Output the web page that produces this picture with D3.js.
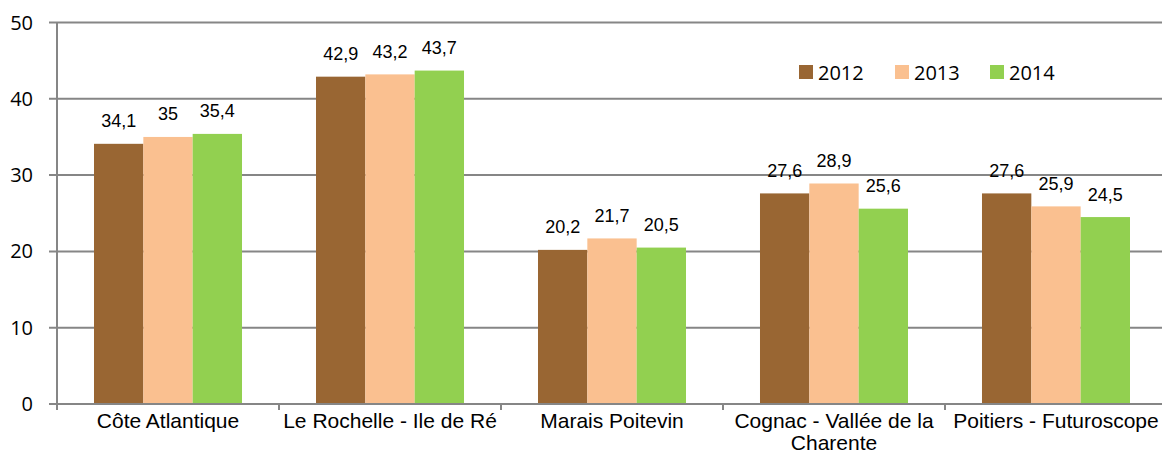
<!DOCTYPE html>
<html>
<head>
<meta charset="utf-8">
<script src="https://cdn.jsdelivr.net/npm/d3@7"></script>
<style>
  body { margin: 0; background: #fff; }
  svg { display: block; }
</style>
</head>
<body>
<div id="chart"></div>
<script>
const categories = [
  ["Côte Atlantique"],
  ["Le Rochelle - Ile de Ré"],
  ["Marais Poitevin"],
  ["Cognac - Vallée de la", "Charente"],
  ["Poitiers - Futuroscope"]
]
const years = ["2012", "2013", "2014"]
const values2012 = [34.1, 42.9, 20.2, 27.6, 27.6]
const values2013 = [35, 43.2, 21.7, 28.9, 25.9]
const values2014 = [35.4, 43.7, 20.5, 25.6, 24.5]
const colors = ["#996633", "#FAC090", "#92D050"]
const yTicks = [0, 10, 20, 30, 40, 50]

const series = [values2012, values2013, values2014]

// plot area (right side runs past the window, like the source)
const width = 1162, height = 452
const plotLeft = 57, plotRight = 1167, plotTop = 22.5, plotBottom = 404

const svg = d3.select("#chart").append("svg")
  .attr("width", width)
  .attr("height", height)

const x = d3.scaleBand()
  .domain(d3.range(categories.length))
  .range([plotLeft, plotRight])
  .paddingInner(0.3333)
  .paddingOuter(0.1667)

const x1 = d3.scaleBand()
  .domain(d3.range(years.length))
  .range([0, x.bandwidth()])

const y = d3.scaleLinear().domain([0, 50]).range([plotBottom, plotTop])

// gridlines
svg.append("g")
  .selectAll("line")
  .data(yTicks.slice(1))
  .join("line")
  .attr("x1", plotLeft - 8)
  .attr("x2", plotRight)
  .attr("y1", d => y(d))
  .attr("y2", d => y(d))
  .attr("stroke", "#868686")
  .attr("stroke-width", 2)

// y axis
svg.append("line")
  .attr("x1", plotLeft).attr("x2", plotLeft)
  .attr("y1", plotTop).attr("y2", plotBottom + 6)
  .attr("stroke", "#868686").attr("stroke-width", 2)

svg.append("g")
  .selectAll("text")
  .data(yTicks)
  .join("text")
  .attr("x", 33)
  .attr("y", d => y(d) + 7)
  .attr("text-anchor", "end")
  .attr("font-family", "'Open Sans', sans-serif")
  .attr("font-size", 20)
  .attr("fill", "#000")
  .text(d => d)

svg.append("line")
  .attr("x1", plotLeft - 8).attr("x2", plotLeft)
  .attr("y1", y(0)).attr("y2", y(0))
  .attr("stroke", "#868686").attr("stroke-width", 2)

// bars
const groups = svg.append("g")
  .selectAll("g")
  .data(categories.map((c, i) => i))
  .join("g")
  .attr("transform", i => `translate(${x(i)},0)`)

groups.selectAll("rect")
  .data(i => series.map((s, k) => ({k: k, v: s[i]})))
  .join("rect")
  .attr("x", d => x1(d.k))
  .attr("width", x1.bandwidth())
  .attr("y", d => y(d.v))
  .attr("height", d => y(0) - y(d.v))
  .attr("fill", d => colors[d.k])

groups.selectAll("text")
  .data(i => series.map((s, k) => ({k: k, v: s[i]})))
  .join("text")
  .attr("x", d => x1(d.k) + x1.bandwidth() / 2)
  .attr("y", d => y(d.v) - 16.5)
  .attr("text-anchor", "middle")
  .attr("font-family", "'Liberation Sans', Arial, sans-serif")
  .attr("font-size", 18)
  .attr("fill", "#000")
  .text(d => String(d.v).replace(".", ","))

// x axis
svg.append("line")
  .attr("x1", plotLeft).attr("x2", plotRight)
  .attr("y1", plotBottom).attr("y2", plotBottom)
  .attr("stroke", "#868686").attr("stroke-width", 2)

svg.append("g")
  .selectAll("line")
  .data(d3.range(categories.length + 1))
  .join("line")
  .attr("x1", i => plotLeft + i * x.step())
  .attr("x2", i => plotLeft + i * x.step())
  .attr("y1", plotBottom)
  .attr("y2", plotBottom + 6)
  .attr("stroke", "#868686").attr("stroke-width", 2)

const catLabels = svg.append("g")
  .selectAll("text")
  .data(categories)
  .join("text")
  .attr("x", (c, i) => x(i) + x.bandwidth() / 2)
  .attr("y", 428)
  .attr("text-anchor", "middle")
  .attr("font-family", "'Liberation Sans', Arial, sans-serif")
  .attr("font-size", 21)
  .attr("fill", "#000")

catLabels.selectAll("tspan")
  .data(c => c)
  .join("tspan")
  .attr("x", function() { return this.parentNode.getAttribute("x") })
  .attr("dy", (d, j) => j === 0 ? 0 : 21.5)
  .text(d => d)

// legend
const legendX = [799, 895, 990]
const legend = svg.append("g")
  .selectAll("g")
  .data(years)
  .join("g")
  .attr("transform", (d, i) => `translate(${legendX[i]},65)`)

legend.append("rect")
  .attr("width", 14).attr("height", 14)
  .attr("fill", (d, i) => colors[i])

legend.append("text")
  .attr("x", 19)
  .attr("y", 14.5)
  .attr("font-family", "'Open Sans', sans-serif")
  .attr("font-size", 20)
  .attr("fill", "#000")
  .text(d => d)
</script>
</body>
</html>
